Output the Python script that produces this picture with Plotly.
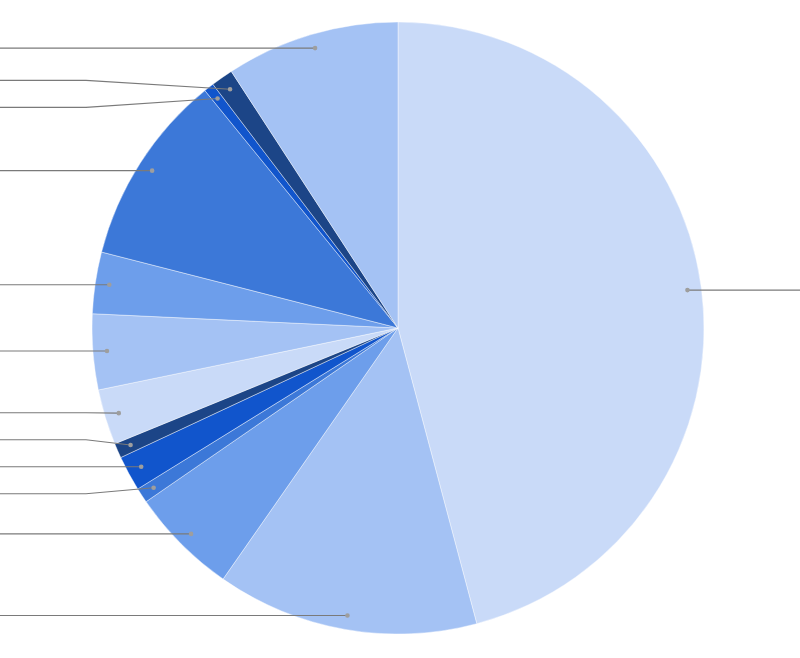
import math
import plotly.graph_objects as go

# slice shares, clockwise from 12 o'clock (labels sit outside the visible area)
labels = ["Slice 1", "Slice 2", "Slice 3", "Slice 4", "Slice 5", "Slice 6", "Slice 7",
          "Slice 8", "Slice 9", "Slice 10", "Slice 11", "Slice 12", "Slice 13"]
values = [45.86, 13.83, 5.71, 0.79, 1.86, 0.78, 2.93, 3.99, 3.25, 10.14, 0.53, 1.17, 9.17]
colors = ["#c9daf8", "#a4c2f4", "#6d9eeb", "#3c78d8", "#1155cc", "#1c4587", "#c9daf8",
          "#a4c2f4", "#6d9eeb", "#3c78d8", "#1155cc", "#1c4587", "#a4c2f4"]

W, H = 800, 658
cx, cy, R = 398, 328, 306

fig = go.Figure()
fig.add_trace(go.Pie(
    labels=labels, values=values, sort=False, direction="clockwise", rotation=0,
    marker=dict(colors=colors, line=dict(color="rgba(255,255,255,0.7)", width=0.6)),
    textinfo="none", hoverinfo="label+percent",
    domain=dict(x=[(cx - R) / W, (cx + R) / W], y=[1 - (cy + R) / H, 1 - (cy - R) / H]),
))

# leader line anchors at the middle of each slice
total = sum(values)
anchors = []
start = 0.0
for v in values:
    mid = math.radians((start + v / 2) / total * 360)
    r = 0.954 * R
    anchors.append((cx + r * math.sin(mid), cy - r * math.cos(mid)))
    start += v

# spread label rows so they keep a minimum gap
gap = 27
label_y = [a[1] for a in anchors]
for side in (True, False):
    idx = sorted([i for i, a in enumerate(anchors) if (a[0] < cx) == side], key=lambda i: anchors[i][1])
    for _ in range(300):
        for j in range(1, len(idx)):
            d = label_y[idx[j]] - label_y[idx[j - 1]]
            if d < gap:
                label_y[idx[j]] += (gap - d) / 2
                label_y[idx[j - 1]] -= (gap - d) / 2

# shapes so the leaders sit above the pie
shapes = []
for i, (ax, ay) in enumerate(anchors):
    if ax < cx:
        ex, end = 86, -10
    else:
        ex, end = W - 86, W + 10
    ly = label_y[i]
    shapes.append(dict(type="path", xref="x", yref="y", layer="above",
                       path=f"M{ax:.2f},{ay:.2f} L{ex},{ly:.2f} L{end},{ly:.2f}",
                       line=dict(color="#7a7a7a", width=1.1)))
    shapes.append(dict(type="circle", xref="x", yref="y", layer="above",
                       x0=ax - 2.3, x1=ax + 2.3, y0=ay - 2.3, y1=ay + 2.3,
                       fillcolor="#9e9e9e", line=dict(width=0)))

fig.update_layout(
    width=W, height=H, margin=dict(l=0, r=0, t=0, b=0),
    showlegend=False, paper_bgcolor="white", plot_bgcolor="rgba(0,0,0,0)",
    xaxis=dict(range=[0, W], visible=False, fixedrange=True),
    yaxis=dict(range=[H, 0], visible=False, fixedrange=True),
    shapes=shapes,
)

fig.write_html("out.html", config={"displayModeBar": False},
               post_script="document.body.style.margin='0';")
